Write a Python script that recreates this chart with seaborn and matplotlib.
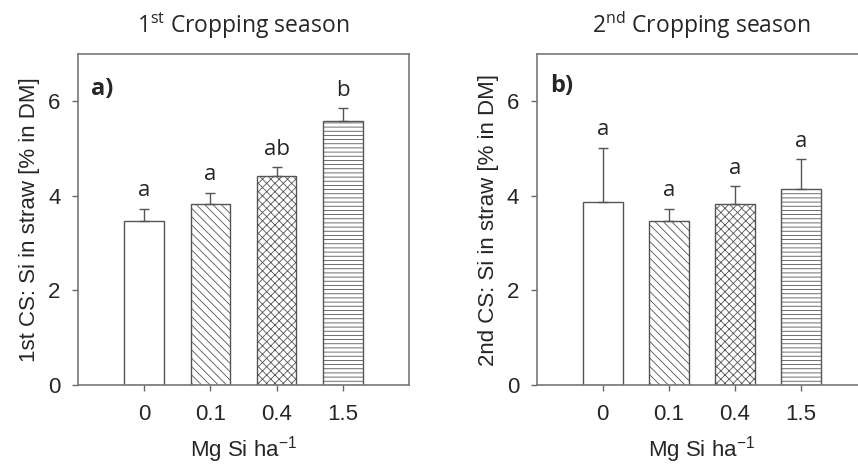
import matplotlib
matplotlib.use("Agg")
import matplotlib.pyplot as plt
import seaborn as sns
import pandas as pd
import numpy as np

# Si application rates and measured straw Si content
rates = ["0", "0.1", "0.4", "1.5"]
cs1_mean = [3.46, 3.83, 4.43, 5.58]
cs1_se = [0.26, 0.23, 0.17, 0.27]
cs1_letters = ["a", "a", "ab", "b"]
cs2_mean = [3.88, 3.46, 3.83, 4.14]
cs2_se = [1.14, 0.26, 0.37, 0.63]
cs2_letters = ["a", "a", "a", "a"]
hatches = ["", "\\\\\\\\", "xxxx", "----"]

sns.set_theme(style="white")
plt.rcParams["font.family"] = ["Liberation Sans", "DejaVu Sans"]
plt.rcParams["mathtext.fontset"] = "custom"
plt.rcParams["mathtext.rm"] = "Open Sans"
plt.rcParams["mathtext.sf"] = "Liberation Sans"
plt.rcParams["hatch.linewidth"] = 0.6
plt.rcParams["hatch.color"] = "#444444"

fig = plt.figure(figsize=(8.58, 4.69), dpi=100)
W, H = 858, 469
ax1 = fig.add_axes([78 / W, 84 / H, 331 / W, 331 / H])
ax2 = fig.add_axes([536.7 / W, 84 / H, 330 / W, 331 / H])

panels = [
    (ax1, cs1_mean, cs1_se, cs1_letters, "a)", 0.875, "1$^{\\mathrm{st}}$ Cropping season",
     "1st CS: Si in straw [% in DM]"),
    (ax2, cs2_mean, cs2_se, cs2_letters, "b)", 0.885, "2$^{\\mathrm{nd}}$ Cropping season",
     "2nd CS: Si in straw [% in DM]"),
]

for ax, mean, se, letters, tag, tag_y, title, ylabel in panels:
    df = pd.DataFrame({"rate": rates, "si": mean})
    sns.barplot(data=df, x="rate", y="si", order=rates, color="white",
                edgecolor="#555555", linewidth=1.0, width=0.6,
                errorbar=None, ax=ax, zorder=2)
    for patch, h in zip(ax.patches, hatches):
        patch.set_hatch(h)
        patch.set_facecolor("white")
    xs = np.arange(len(rates))
    ax.errorbar(xs, mean, yerr=[np.zeros(len(se)), se], fmt="none",
                ecolor="#555555", elinewidth=1.0, capsize=3.6, capthick=1.0,
                zorder=3)
    for x, m, s, lab in zip(xs, mean, se, letters):
        ax.text(x, m + s + 0.27, lab, ha="center", va="baseline",
                fontsize=16, family=["Open Sans", "DejaVu Sans"])
    ax.text(0.04, tag_y, tag, transform=ax.transAxes, ha="left", va="baseline",
            fontsize=17, fontweight="bold", family=["Open Sans", "DejaVu Sans"])
    ax.set_xlim(-1, 4)
    ax.set_ylim(0, 7)
    ax.set_yticks([0, 2, 4, 6])
    ax.set_xlabel("Mg Si ha$^{\\mathsf{-1}}$", fontsize=16, labelpad=6)
    ax.set_ylabel(ylabel, fontsize=16, labelpad=6)
    ax.set_title(title, fontsize=16.5, family=["Open Sans", "DejaVu Sans"], pad=15)
    ax.tick_params(axis="both", direction="out", length=4.5, width=1.0,
                   color="#666666", labelsize=16, bottom=True, left=True)
    ax.tick_params(axis="x", pad=9.5)
    ax.tick_params(axis="y", pad=8)
    for sp in ax.spines.values():
        sp.set_visible(True)
        sp.set_color("#777777")
        sp.set_linewidth(1.2)
    ax.grid(False)

fig.savefig("out.png", dpi=100)
